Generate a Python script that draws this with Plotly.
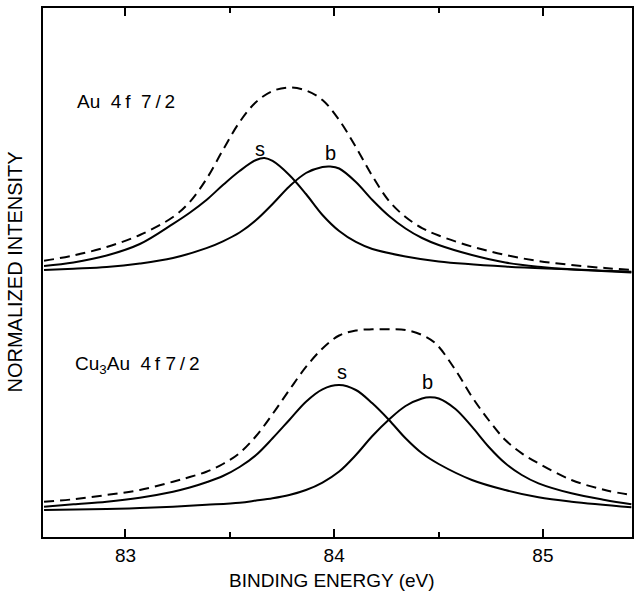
import plotly.graph_objects as go

# ---------------- data ----------------
# Au 4f 7/2 panel
au_sum_x = [82.61, 82.751, 82.910, 83.069, 83.228, 83.308, 83.388, 83.467, 83.547, 83.626, 83.705,
            83.785, 83.865, 83.944, 84.024, 84.104, 84.183, 84.263, 84.342, 84.421, 84.501, 84.660,
            84.820, 84.979, 85.137, 85.297, 85.424]
au_sum_y = [52.23, 53.21, 54.82, 57.09, 60.49, 63.33, 67.67, 73.16, 78.45, 82.23, 84.31,
            84.97, 84.40, 82.61, 78.83, 73.72, 68.24, 63.52, 60.49, 58.41, 56.99, 54.91,
            53.31, 52.17, 51.42, 50.85, 50.47]

au_s_x = [82.61, 82.751, 82.910, 83.069, 83.228, 83.308, 83.388, 83.467, 83.547, 83.626, 83.666,
          83.705, 83.785, 83.865, 83.944, 84.024, 84.104, 84.183, 84.342, 84.501, 84.820, 85.137, 85.424]
au_s_y = [51.23, 51.89, 53.21, 55.39, 59.20, 61.30, 63.71, 66.54, 69.19, 71.27, 71.64,
          71.08, 68.43, 64.84, 60.87, 57.84, 55.77, 54.44, 53.02, 52.08, 51.13, 50.57, 50.00]

au_b_x = [82.61, 82.751, 82.910, 83.069, 83.228, 83.388, 83.467, 83.547, 83.626, 83.705, 83.785, 83.865,
          83.944, 83.981, 84.024, 84.104, 84.183, 84.263, 84.342, 84.421, 84.501, 84.660,
          84.820, 84.979, 85.137, 85.424]
au_b_y = [50.47, 50.72, 51.04, 51.70, 52.74, 54.60, 55.90, 57.56, 59.92, 62.95, 66.26, 68.81,
          69.94, 70.04, 69.66, 67.11, 63.71, 60.68, 58.32, 56.52, 55.20, 53.31,
          51.89, 51.10, 50.61, 50.15]

# Cu3Au 4f 7/2 panel
cu_sum_x = [82.61, 82.751, 82.910, 83.069, 83.228, 83.308, 83.388, 83.467, 83.547, 83.626, 83.705, 83.785,
            83.865, 83.944, 84.024, 84.104, 84.183, 84.263, 84.342, 84.421, 84.485, 84.581, 84.660,
            84.740, 84.820, 84.899, 84.979, 85.137, 85.297, 85.424]
cu_sum_y = [6.67, 7.13, 7.94, 8.88, 10.45, 11.34, 12.34, 13.80, 15.88, 19.09, 23.25, 27.79,
            32.14, 35.63, 38.09, 39.04, 39.26, 39.26, 39.13, 38.19, 36.62, 31.57, 26.52,
            22.12, 18.34, 15.82, 13.93, 10.78, 8.88, 7.94]

cu_s_x = [82.61, 82.751, 82.910, 83.069, 83.228, 83.308, 83.388, 83.467, 83.547, 83.626, 83.705, 83.785,
          83.865, 83.944, 84.024, 84.104, 84.183, 84.263, 84.342, 84.421, 84.501, 84.660, 84.820,
          84.979, 85.137, 85.424]
cu_s_y = [5.73, 6.18, 6.67, 7.43, 8.56, 9.35, 10.35, 11.53, 13.23, 15.50, 18.66, 22.12,
          25.58, 27.92, 28.73, 27.79, 25.27, 22.12, 18.66, 15.82, 13.80, 10.78, 8.88,
          7.50, 6.67, 5.61]

cu_b_x = [82.61, 82.910, 83.069, 83.228, 83.388, 83.547, 83.626, 83.705, 83.785, 83.865, 83.944, 84.024,
          84.104, 84.183, 84.263, 84.342, 84.421, 84.458, 84.501, 84.581, 84.660, 84.740, 84.820,
          84.899, 84.979, 85.137, 85.297, 85.424]
cu_b_y = [5.10, 5.29, 5.48, 5.73, 6.08, 6.48, 6.88, 7.32, 7.94, 8.88, 10.30, 12.38,
          15.50, 19.09, 22.21, 24.76, 26.18, 26.41, 26.18, 24.20, 20.85, 17.07, 13.93,
          11.72, 10.15, 8.26, 6.99, 6.18]

x_ticks = [83, 84, 85]
x_tick_labels = ["83", "84", "85"]
x_minor_ticks = [83.5, 84.5]

# ---------------- figure ----------------
FONT = "Liberation Sans, Arial, sans-serif"
fig = go.Figure()

def add_line(x, y, dashed=False):
    fig.add_trace(go.Scatter(
        x=x, y=y, mode="lines",
        line=dict(color="black", width=2, shape="spline", smoothing=1.0,
                  dash="10px,6px" if dashed else "solid"),
        hoverinfo="skip", showlegend=False))

add_line(au_sum_x, au_sum_y, dashed=True)
add_line(au_s_x, au_s_y)
add_line(au_b_x, au_b_y)
add_line(cu_sum_x, cu_sum_y, dashed=True)
add_line(cu_s_x, cu_s_y)
add_line(cu_b_x, cu_b_y)

labels = [
    dict(x=83.643, y=73.3, text="s"),
    dict(x=83.981, y=72.6, text="b"),
    dict(x=84.038, y=31.1, text="s"),
    dict(x=84.449, y=29.3, text="b"),
]
for lb in labels:
    fig.add_annotation(x=lb["x"], y=lb["y"], text=lb["text"], showarrow=False,
                       xanchor="center", yanchor="middle",
                       font=dict(family=FONT, size=20, color="black"))

fig.add_annotation(x=82.757, y=82.3, text="Au  4\u2009f  7\u2009/\u20092", showarrow=False,
                   xanchor="left", yanchor="middle",
                   font=dict(family=FONT, size=19, color="black"))
fig.add_annotation(x=82.750, y=32.6, text="Cu<sub>3</sub>Au  4\u2009f 7\u2009/\u20092", showarrow=False,
                   xanchor="left", yanchor="middle",
                   font=dict(family=FONT, size=19, color="black"))

fig.add_annotation(xref="paper", yref="paper", x=0, y=0.5, xshift=-29,
                   text="NORMALIZED INTENSITY", textangle=-90, showarrow=False,
                   xanchor="center", yanchor="middle",
                   font=dict(family=FONT, size=20, color="black"))
fig.add_annotation(xref="paper", yref="paper", x=0.49, y=0, yshift=-43,
                   text="BINDING ENERGY (eV)", showarrow=False,
                   xanchor="center", yanchor="middle",
                   font=dict(family=FONT, size=19, color="black"))

fig.update_layout(
    width=639, height=592,
    margin=dict(l=43, r=5, t=8, b=55),
    paper_bgcolor="white", plot_bgcolor="white",
    font=dict(family=FONT, color="black"),
)
fig.update_xaxes(
    range=[82.605, 85.427], tickvals=x_ticks, ticktext=x_tick_labels,
    ticks="inside", ticklen=8, tickwidth=1.5, tickcolor="black",
    showline=True, linecolor="black", linewidth=2, mirror="ticks",
    showgrid=False, zeroline=False,
    tickfont=dict(family=FONT, size=19, color="black"),
    minor=dict(tickvals=x_minor_ticks, ticks="inside", ticklen=5, tickwidth=1.5, tickcolor="black"),
)
fig.update_yaxes(
    range=[0, 100], showticklabels=False, ticks="",
    showline=True, linecolor="black", linewidth=2, mirror=True,
    showgrid=False, zeroline=False,
)

fig.write_html("out.html", config={"displayModeBar": False},
               post_script="document.body.style.margin='0px';")
